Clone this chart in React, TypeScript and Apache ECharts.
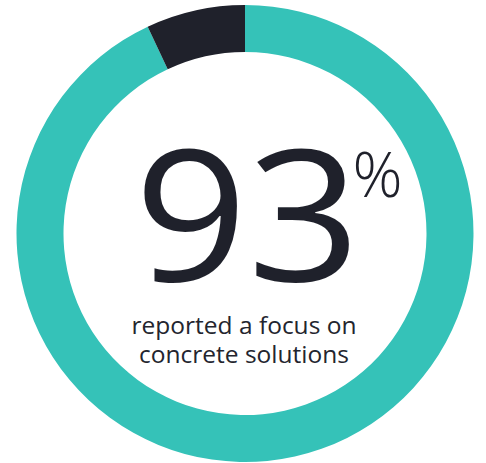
import React, { useEffect, useRef } from "react";
import * as echarts from "echarts";

const categories = ["Focus on concrete solutions", "Other"];
const values = [93, 7];
const colors = ["#35c2b8", "#1f212b"];
const bigLabel = "93";
const captionLines = ["reported a focus on", "concrete solutions"];

export default function App() {
  const ref = useRef<HTMLDivElement>(null);
  useEffect(() => {
    if (!ref.current) return;
    const chart = echarts.init(ref.current, null, { renderer: "svg" });
    chart.setOption({
      animation: false,
      series: [
        {
          type: "pie",
          center: [245, 233.5],
          radius: [181.5, 228.5],
          startAngle: 90,
          clockwise: true,
          silent: true,
          label: { show: false },
          labelLine: { show: false },
          itemStyle: { borderWidth: 0 },
          data: categories.map((name, i) => ({
            name,
            value: values[i],
            itemStyle: { color: colors[i] },
          })),
        },
      ],
      graphic: [
        {
          type: "text",
          x: 247.5,
          y: 209.5,
          scaleX: 1.08,
          style: {
            text: bigLabel,
            textAlign: "center",
            textVerticalAlign: "middle",
            font: "400 183px 'Open Sans'",
            fill: "#1f212b",
          },
        },
        {
          type: "text",
          x: 377.5,
          y: 172.5,
          style: {
            text: "%",
            textAlign: "center",
            textVerticalAlign: "middle",
            font: "300 62px 'Open Sans'",
            fill: "#1f212b",
          },
        },
        {
          type: "text",
          x: 244,
          y: 339,
          style: {
            text: captionLines.join("\n"),
            textAlign: "center",
            textVerticalAlign: "middle",
            lineHeight: 29,
            font: "400 24.5px 'Open Sans'",
            fill: "#23252e",
          },
        },
      ],
    });
    return () => chart.dispose();
  }, []);
  return (
    <div
      ref={ref}
      style={{ position: "absolute", left: 0, top: 0, width: 486, height: 463, background: "#fff" }}
    />
  );
}
